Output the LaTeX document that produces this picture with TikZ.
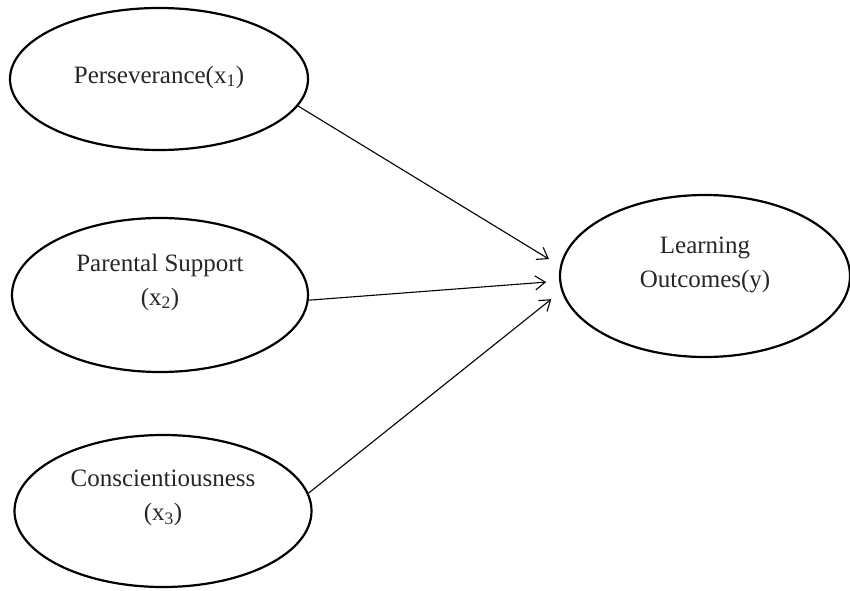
\documentclass[tikz,border=0pt]{standalone}
\usepackage{fontspec}
\setmainfont{Liberation Serif}
\usetikzlibrary{shapes.geometric}
\usetikzlibrary{arrows.meta}
\usetikzlibrary{positioning}

\begin{document}
\begin{tikzpicture}[x=1pt,y=1pt,>={Straight Barb[length=10pt,width=14pt]},shorten >=13pt,
    main node/.style={ellipse,draw,line width=2.2pt,inner sep=0pt},
    text node/.style={align=center,font=\fontsize{25}{34}\selectfont,text=black!85}]
   \useasboundingbox (0,0) rectangle (850,590);
   \begin{scope}
      \node[main node,minimum width=298pt,minimum height=142pt] (p) at (159,511) {};
      \node[main node,minimum width=296pt,minimum height=154pt] (s) at (160,295) {};
      \node[main node,minimum width=297pt,minimum height=152pt] (c) at (163,79) {};
      \node[main node,minimum width=290pt,minimum height=162pt] (y) at (705,314) {};
      \node[text node] (pt) at ([yshift=2pt]p) {Perseverance(x\textsubscript{1})};
      \node[text node] (st) at ([yshift=13pt]s) {Parental Support\\(x\textsubscript{2})};
      \node[text node] (ct) at ([yshift=13pt]c) {Conscientiousness\\(x\textsubscript{3})};
      \node[text node] (yt) at ([yshift=11pt]y) {Learning\\Outcomes(y)};
       \path[->, line width=1.1pt] (p.-11) edge (y.176);
       \path[->, line width=1.1pt] (s.-2) edge (y.182);
       \path[->, line width=1.1pt] (c.7) edge (y.186);
    \end{scope}
  \end{tikzpicture}
\end{document}
